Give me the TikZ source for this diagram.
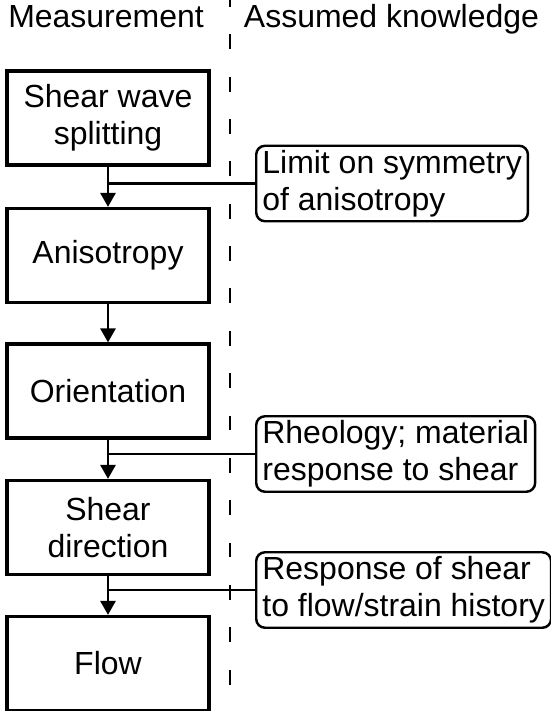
\documentclass[tikz,border=0pt]{standalone}
\usepackage{fontspec}
\setmainfont{Liberation Sans}
\usetikzlibrary{arrows.meta}

\begin{document}
\begin{tikzpicture}[x=0.02cm,y=-0.02cm,
    font=\fontsize{18.2pt}{21pt}\selectfont,
    stage/.style={draw,line width=1.8pt,minimum width=4.04cm,
                  minimum height=1.88cm,align=center,inner sep=2pt},
    note/.style={draw,line width=1.4pt,rounded corners=5pt,align=left,
                 anchor=west,inner xsep=3.5pt,inner ysep=2.5pt},
    link/.style={-{Triangle[width=8.5pt,length=8pt]},line width=1.7pt},
    feed/.style={line width=1.2pt}]
  \useasboundingbox (0,0) rectangle (551,711);
  % column headings
  \node[anchor=base] (meas) at (106,27) {Measurement};
  \node[anchor=base] (know) at (391.5,27) {Assumed knowledge};
  % divider
  \coordinate (divtop) at (230,0);
  \coordinate (divbot) at (230,711);
  \draw[line width=1.4pt,dash pattern=on 8.5pt off 15.6pt,dash phase=4.5pt]
       (divtop) -- (divbot);
  % measurement chain
  \node[stage] (split)    at (108,118)   {Shear wave\\splitting};
  \node[stage] (aniso)    at (108,255.5) {Anisotropy};
  \node[stage] (orient)   at (108,391)   {Orientation};
  \node[stage] (sheardir) at (108,527.5) {Shear\\direction};
  \node[stage] (flow)     at (108,663.5) {Flow};
  % assumed knowledge
  \node[note] (symm)  at (255,183.5) {Limit on symmetry\\of anisotropy};
  \node[note] (rheo)  at (255,454)   {Rheology; material\\response to shear};
  \node[note] (hist)  at (255,590)   {Response of shear\\to flow/strain history};
  % arrows
  \draw[link] (split) -- (aniso);
  \draw[link] (aniso) -- (orient);
  \draw[link] (orient) -- (sheardir);
  \draw[link] (sheardir) -- (flow);
  % feeds into the chain
  \draw[feed] (split.south |- symm.west) -- (symm.west);
  \draw[feed] (orient.south |- rheo.west) -- (rheo.west);
  \draw[feed] (sheardir.south |- hist.west) -- (hist.west);
\end{tikzpicture}
\end{document}
